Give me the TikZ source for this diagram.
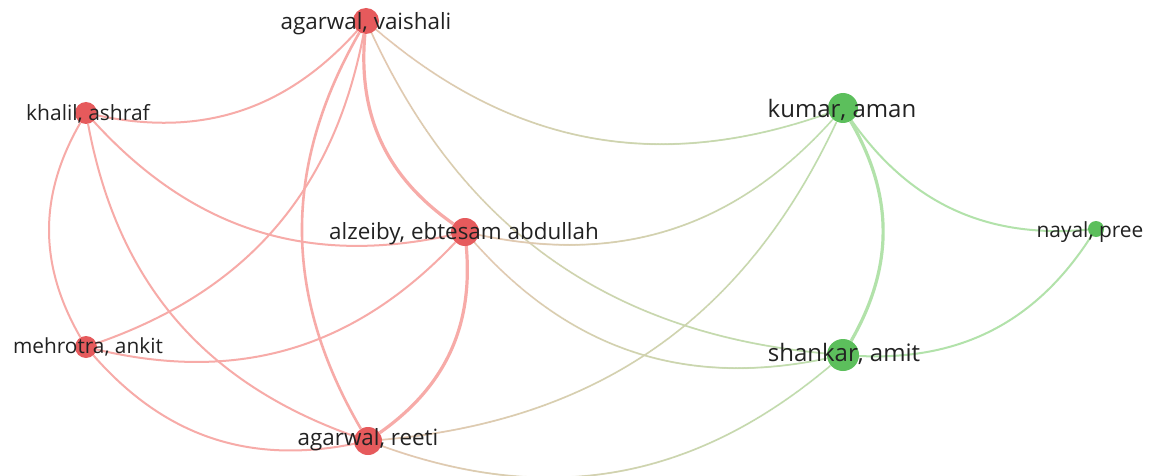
\documentclass[tikz,border=0pt]{standalone}
\usepackage{fontspec}
\setmainfont{Open Sans}
\usetikzlibrary{decorations.markings}
\definecolor{rnode}{HTML}{E65A5C}
\definecolor{gnode}{HTML}{5CBF5C}
\definecolor{redge}{HTML}{F7ABA8}
\definecolor{gedge}{HTML}{B2E2AA}
\definecolor{medge}{HTML}{DCD3B4}
\colorlet{mstart}{redge!30!medge}
\colorlet{mend}{gedge!75!medge}
\definecolor{labtext}{HTML}{222222}
\pgfdeclarelayer{bg}
\pgfsetlayers{bg,main}
\tikzset{
  rdot/.style={circle, fill=rnode, draw=none, inner sep=0pt, minimum size=#1},
  gdot/.style={circle, fill=gnode, draw=none, inner sep=0pt, minimum size=#1},
  lab/.style={text=labtext, inner sep=0pt, font=\fontsize{#1}{#1}\selectfont},
  re/.style={draw=redge, line width=2pt},
  ge/.style={draw=gedge, line width=2pt},
  me/.style={decoration={markings,
      mark=between positions 0 and 1 step 0.8pt with {%
        \pgfmathsetmacro\gp{(\pgfkeysvalueof{/pgf/decoration/mark info/distance from start}/\pgfdecoratedpathlength)*100}%
        \fill[mend!\gp!mstart] (0pt,0pt) circle (1pt);}},
      postaction={decorate}},
  thick edge/.style={line width=3.2pt},
  arc/.style={bend right=30},
}
\begin{document}
\begin{tikzpicture}[x=1pt,y=-1pt]
\useasboundingbox (0,0) rectangle (1150,476);
% nodes (circles)
\node[rdot=26pt] (AV) at (366,21) {};
\node[rdot=22pt] (KA) at (86,113) {};
\node[rdot=28pt] (AZ) at (465,232) {};
\node[rdot=22pt] (MA) at (86,347) {};
\node[rdot=28pt] (AR) at (368,441) {};
\node[gdot=30pt] (KU) at (843,108) {};
\node[gdot=32pt] (SA) at (843,355) {};
\node[gdot=16pt] (NA) at (1096,229) {};
% edges
\begin{pgfonlayer}{bg}
\fill[white] (0,0) rectangle (1150,476);
\draw[re] (KA) to[arc] (AV);
\draw[re] (MA) to[arc] (AV);
\draw[re, line width=2.6pt] (AV) to[arc] (AR);
\draw[re, thick edge] (AV) to[arc] (AZ);
\path[me] (AV) to[arc] (SA);
\path[me] (AV) to[arc] (KU);
\draw[re] (KA) to[arc] (MA);
\draw[re] (KA) to[arc] (AR);
\draw[re] (KA) to[arc] (AZ);
\draw[re] (MA) to[arc] (AZ);
\draw[re] (MA) to[arc] (AR);
\path[me] (AZ) to[arc] (KU);
\path[me] (AZ) to[arc] (SA);
\draw[re, thick edge] (AR) to[arc] (AZ);
\path[me] (AR) to[arc] (KU);
\path[me] (AR) to[arc] (SA);
\draw[ge, thick edge] (SA) to[arc] (KU);
\draw[ge] (KU) to[arc] (NA);
\draw[ge] (SA) to[arc] (NA);
\end{pgfonlayer}
% labels
\node[lab=22.4] (AVl) at (366,24) {agarwal, vaishali};
\node[lab=21] (KAl) at (88,114) {khalil, ashraf};
\node[lab=22.4] (AZl) at (464,234) {alzeiby, ebtesam abdullah};
\node[lab=20.8] (MAl) at (88,347) {mehrotra, ankit};
\node[lab=22.4] (ARl) at (368,440) {agarwal, reeti};
\node[lab=24] (KUl) at (842,110) {kumar, aman};
\node[lab=24] (SAl) at (844,354) {shankar, amit};
\node[lab=20.9] (NAl) at (1090,232) {nayal, pree};
\end{tikzpicture}
\end{document}
